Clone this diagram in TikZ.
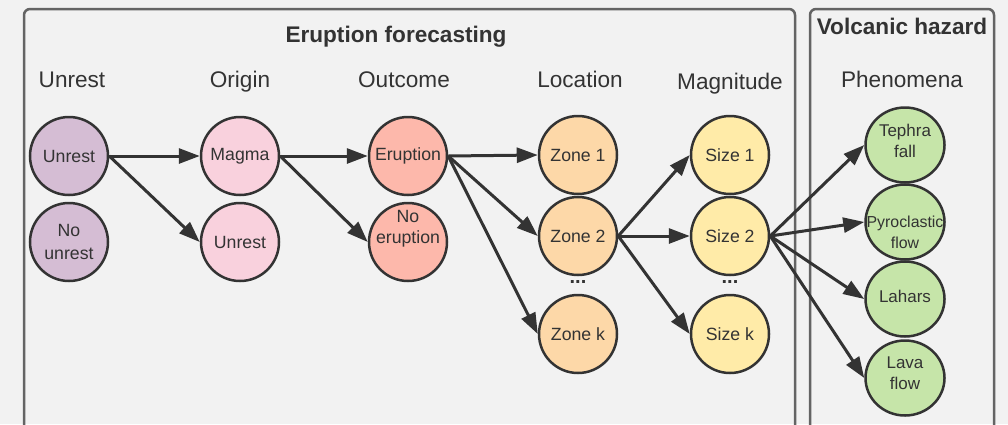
\documentclass[tikz,border=0pt]{standalone}
\usepackage{fontspec}
\setmainfont{Liberation Sans}
\definecolor{bggray}{RGB}{242, 242, 242}
\definecolor{boxgray}{RGB}{100, 100, 100}
\definecolor{inkgray}{RGB}{51, 51, 51}
\definecolor{unrestpurple}{RGB}{213, 189, 212}
\definecolor{originpink}{RGB}{249, 209, 221}
\definecolor{outcomesalmon}{RGB}{253, 184, 171}
\definecolor{zoneorange}{RGB}{253, 216, 168}
\definecolor{sizeyellow}{RGB}{255, 235, 168}
\definecolor{hazardgreen}{RGB}{198, 229, 169}
\usetikzlibrary{shapes.geometric, arrows.meta, positioning}

\begin{document}
\begin{tikzpicture}[x=1pt, y=1pt,
  st/.style={circle, draw=inkgray, line width=2.5pt, fill=#1, minimum size=78pt,
    inner sep=0pt, align=center, text=inkgray, font=\fontsize{17.7}{23}\selectfont},
  ph/.style={ellipse, draw=inkgray, line width=2.5pt, fill=hazardgreen, minimum width=79pt,
    minimum height=75pt, inner sep=0pt, align=center, text=inkgray, font=\fontsize{17}{22}\selectfont},
  lb/.style={align=center, text=inkgray, inner sep=0pt, font=\fontsize{#1}{21}\selectfont},
  hd/.style={anchor=base, text=inkgray, font=\fontsize{22.6}{26}\selectfont},
  ttl/.style={anchor=base, text=inkgray, font=\fontsize{22.6}{26}\selectfont\bfseries},
  arr/.style={draw=inkgray, line width=3pt, -{Triangle[length=21pt, width=15pt]}},
  dt/.style={text=inkgray, font=\fontsize{20}{20}\selectfont\bfseries},
]
  \useasboundingbox (0,0) rectangle (1008,-424);
  \fill[bggray] (0,0) rectangle (1008,-424);
  % Boxes
  \draw[boxgray, line width=2.5pt, rounded corners=6pt] (24,-9) rectangle (795,-450);
  \draw[boxgray, line width=2.5pt, rounded corners=6pt] (810,-9) rectangle (994,-450);
  \node[ttl] (fc) at (396,-42) {Eruption forecasting};
  \node[ttl] (vh) at (902,-34) {Volcanic hazard};
  % Headers
  \node[hd] (hun) at (72,-87)  {Unrest};
  \node[hd] (hor) at (240,-87) {Origin};
  \node[hd] (hou) at (404,-87) {Outcome};
  \node[hd] (hlo) at (580,-87) {Location};
  \node[hd] (hma) at (730,-89) {Magnitude};
  \node[hd] (hph) at (902,-87) {Phenomena};
  % States
  \node[st=unrestpurple]  (un)  at (69,-156)  {Unrest};
  \node[st=unrestpurple]  (nun) at (69,-242)  {No\\unrest};
  \node[st=originpink]    (mg)  at (240,-156) {Magma};
  \node[st=originpink]    (ou)  at (240,-242) {Unrest};
  \node[st=outcomesalmon] (er)  at (408,-156) {Eruption};
  \node[st=outcomesalmon, label={[lb=17.7, yshift=13pt]center:No\\eruption}] (ner) at (408,-242) {};
  \node[st=zoneorange]    (z1)  at (578,-155) {Zone 1};
  \node[st=zoneorange]    (z2)  at (578,-236) {Zone 2};
  \node[st=zoneorange]    (zk)  at (578,-334) {Zone k};
  \node[st=sizeyellow]    (s1)  at (730,-155) {Size 1};
  \node[st=sizeyellow]    (s2)  at (730,-236) {Size 2};
  \node[st=sizeyellow]    (sk)  at (730,-334) {Size k};
  \node[dt] (dz) at (578,-282) {...};
  \node[dt] (ds) at (730,-282) {...};
  % Phenomena
  \node[ph, label={[lb=17, yshift=4pt]center:Tephra\\fall}] (tf) at (905,-145) {};
  \node[ph, label={[lb=15.9, yshift=-10pt]center:Pyroclastic\\flow}] (pf) at (905,-222) {};
  \node[ph, label={[lb=17, yshift=3pt]center:Lahars}] (lh) at (905,-299) {};
  \node[ph, label={[lb=17, yshift=5pt]center:Lava\\flow}] (lf) at (905,-378) {};
  % Edges
  \draw[arr] (un.east) -- (mg.west);
  \draw[arr] (un.east) -- (ou.west);
  \draw[arr] (mg.east) -- (er.west);
  \draw[arr] (mg.east) -- (ner.west);
  \draw[arr] (er.east) -- (z1.west);
  \draw[arr] (er.east) -- (z2.west);
  \draw[arr] (er.east) -- (zk.west);
  \draw[arr] (z2.east) -- (s1.west);
  \draw[arr] (z2.east) -- (s2.west);
  \draw[arr] (z2.east) -- (sk.west);
  \draw[arr] (s2.east) -- (tf.west);
  \draw[arr] (s2.east) -- (pf.west);
  \draw[arr] (s2.east) -- (lh.west);
  \draw[arr] (s2.east) -- (lf.west);
\end{tikzpicture}
\end{document}
